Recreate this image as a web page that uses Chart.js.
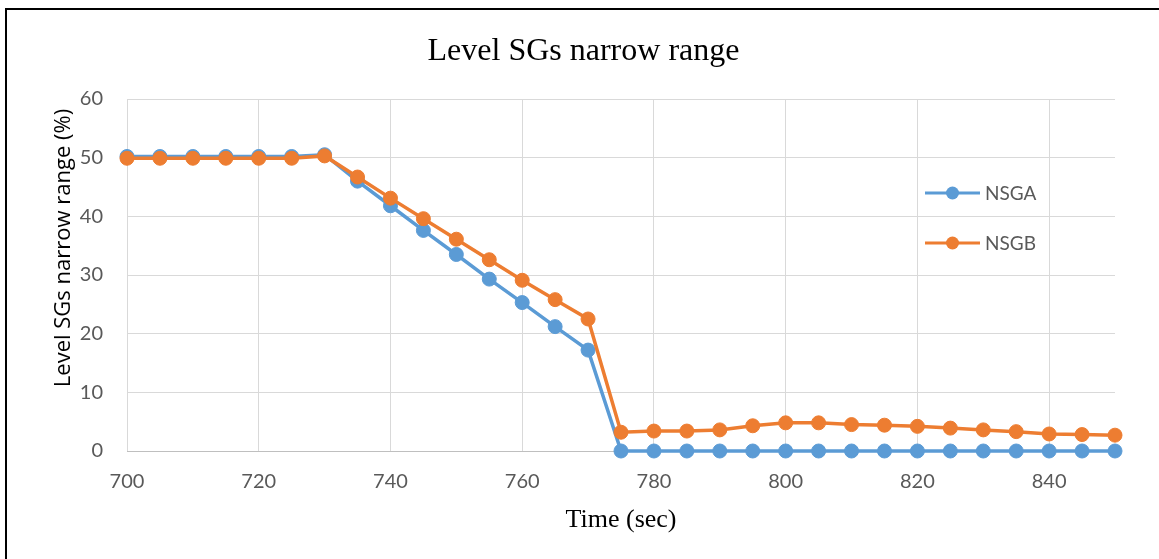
<!DOCTYPE html>
<html>
<head>
<meta charset="utf-8">
<script src="https://cdn.jsdelivr.net/npm/chart.js@4/dist/chart.umd.min.js"></script>
<style>
  html, body { margin: 0; padding: 0; background: #ffffff; }
  #wrap { position: relative; width: 1159px; height: 559px; overflow: hidden; }
  #c { position: absolute; left: 0; top: 0; }
  #frame { position: absolute; left: 5px; top: 8px; width: 1200px; height: 600px;
           border-top: 2px solid #000; border-left: 2px solid #000; pointer-events: none; }
</style>
</head>
<body>
<div id="wrap">
  <canvas id="c" width="1159" height="559"></canvas>
  <div id="frame"></div>
</div>
<script>
const chartTitle = 'Level SGs narrow range';
const xTitle = 'Time (sec)';
const yTitle = 'Level SGs narrow range (%)';
const seriesNames = ['NSGA', 'NSGB'];
const seriesColors = ['#5B9BD5', '#ED7D31'];

const times = [700, 705, 710, 715, 720, 725, 730, 735, 740, 745, 750, 755, 760, 765, 770,
               775, 780, 785, 790, 795, 800, 805, 810, 815, 820, 825, 830, 835, 840, 845, 850];
const nsga = [50.2, 50.2, 50.2, 50.2, 50.2, 50.2, 50.5, 46.0, 41.8, 37.6, 33.5, 29.3, 25.3, 21.2, 17.2,
              0, 0, 0, 0, 0, 0, 0, 0, 0, 0, 0, 0, 0, 0, 0, 0];
const nsgb = [49.9, 49.9, 49.9, 49.9, 49.9, 49.9, 50.3, 46.7, 43.1, 39.6, 36.1, 32.6, 29.1, 25.8, 22.5,
              3.2, 3.4, 3.4, 3.6, 4.3, 4.8, 4.8, 4.5, 4.4, 4.2, 3.9, 3.6, 3.3, 2.9, 2.8, 2.7];

const xMin = 700, xMax = 850, xStep = 20;
const yMin = 0, yMax = 60, yStep = 10;

const toPoints = (vals) => times.map((t, i) => ({ x: t, y: vals[i] }));

const legendPlugin = {
  id: 'insideLegend',
  afterDraw(chart) {
    const ctx = chart.ctx;
    const ca = chart.chartArea;
    const rows = [ca.top + 94, ca.top + 144];
    ctx.save();
    chart.data.datasets.forEach((ds, i) => {
      const y = rows[i];
      const x0 = ca.right - 190, x1 = ca.right - 135, xm = (x0 + x1) / 2;
      ctx.strokeStyle = ds.borderColor;
      ctx.lineWidth = 3;
      ctx.beginPath();
      ctx.moveTo(x0, y);
      ctx.lineTo(x1, y);
      ctx.stroke();
      ctx.fillStyle = ds.backgroundColor;
      ctx.beginPath();
      ctx.arc(xm, y, 6.5, 0, Math.PI * 2);
      ctx.fill();
      ctx.fillStyle = '#595959';
      ctx.font = '19px Lato';
      ctx.textBaseline = 'middle';
      ctx.textAlign = 'left';
      ctx.fillText(ds.label, x1 + 5, y + 1);
    });
    ctx.restore();
  }
};

const yTitlePlugin = {
  id: 'yTitle',
  afterDraw(chart) {
    const ctx = chart.ctx;
    const ca = chart.chartArea;
    ctx.save();
    ctx.translate(64, ca.top + 149);
    ctx.rotate(-Math.PI / 2);
    ctx.fillStyle = '#000000';
    ctx.font = '22px "Open Sans"';
    ctx.textAlign = 'center';
    ctx.textBaseline = 'middle';
    ctx.fillText(yTitle, 0, 0);
    ctx.restore();
  }
};

new Chart(document.getElementById('c'), {
  type: 'line',
  data: {
    datasets: [
      { label: seriesNames[0], data: toPoints(nsga), borderColor: seriesColors[0], backgroundColor: seriesColors[0],
        pointBackgroundColor: seriesColors[0], pointBorderColor: seriesColors[0], borderWidth: 3.5,
        pointRadius: 7, pointBorderWidth: 1, tension: 0, clip: false, order: 1 },
      { label: seriesNames[1], data: toPoints(nsgb), borderColor: seriesColors[1], backgroundColor: seriesColors[1],
        pointBackgroundColor: seriesColors[1], pointBorderColor: seriesColors[1], borderWidth: 3.5,
        pointRadius: 7, pointBorderWidth: 1, tension: 0, clip: false, order: 0 }
    ]
  },
  options: {
    responsive: false,
    animation: false,
    devicePixelRatio: 1,
    layout: { padding: { left: 52, right: 44, top: 0, bottom: 0 } },
    plugins: {
      legend: { display: false },
      tooltip: { enabled: false },
      title: {
        display: true,
        text: chartTitle,
        color: '#000000',
        font: { family: 'Liberation Serif', size: 32, weight: 'normal' },
        padding: { top: 32, bottom: 28.6 }
      }
    },
    scales: {
      x: {
        type: 'linear',
        min: xMin, max: xMax,
        afterFit: (s) => { s.height = 108; },
        ticks: { stepSize: xStep, includeBounds: false, color: '#595959', padding: 19,
                 font: { family: 'Lato', size: 20 }, maxRotation: 0 },
        grid: { color: '#D9D9D9', lineWidth: 1, drawTicks: false },
        border: { display: true, color: '#BFBFBF', width: 1 },
        title: { display: true, text: xTitle, color: '#000000',
                 font: { family: 'Liberation Serif', size: 26, weight: 'normal' },
                 padding: { top: 0, bottom: 23 } }
      },
      y: {
        min: yMin, max: yMax,
        afterFit: (s) => { s.width = 75; },
        ticks: { stepSize: yStep, color: '#595959', padding: 24,
                 font: { family: 'Lato', size: 20 } },
        grid: { color: '#D9D9D9', lineWidth: 1, drawTicks: false },
        border: { display: false },
        title: { display: false }
      }
    }
  },
  plugins: [legendPlugin, yTitlePlugin]
});
</script>
</body>
</html>
